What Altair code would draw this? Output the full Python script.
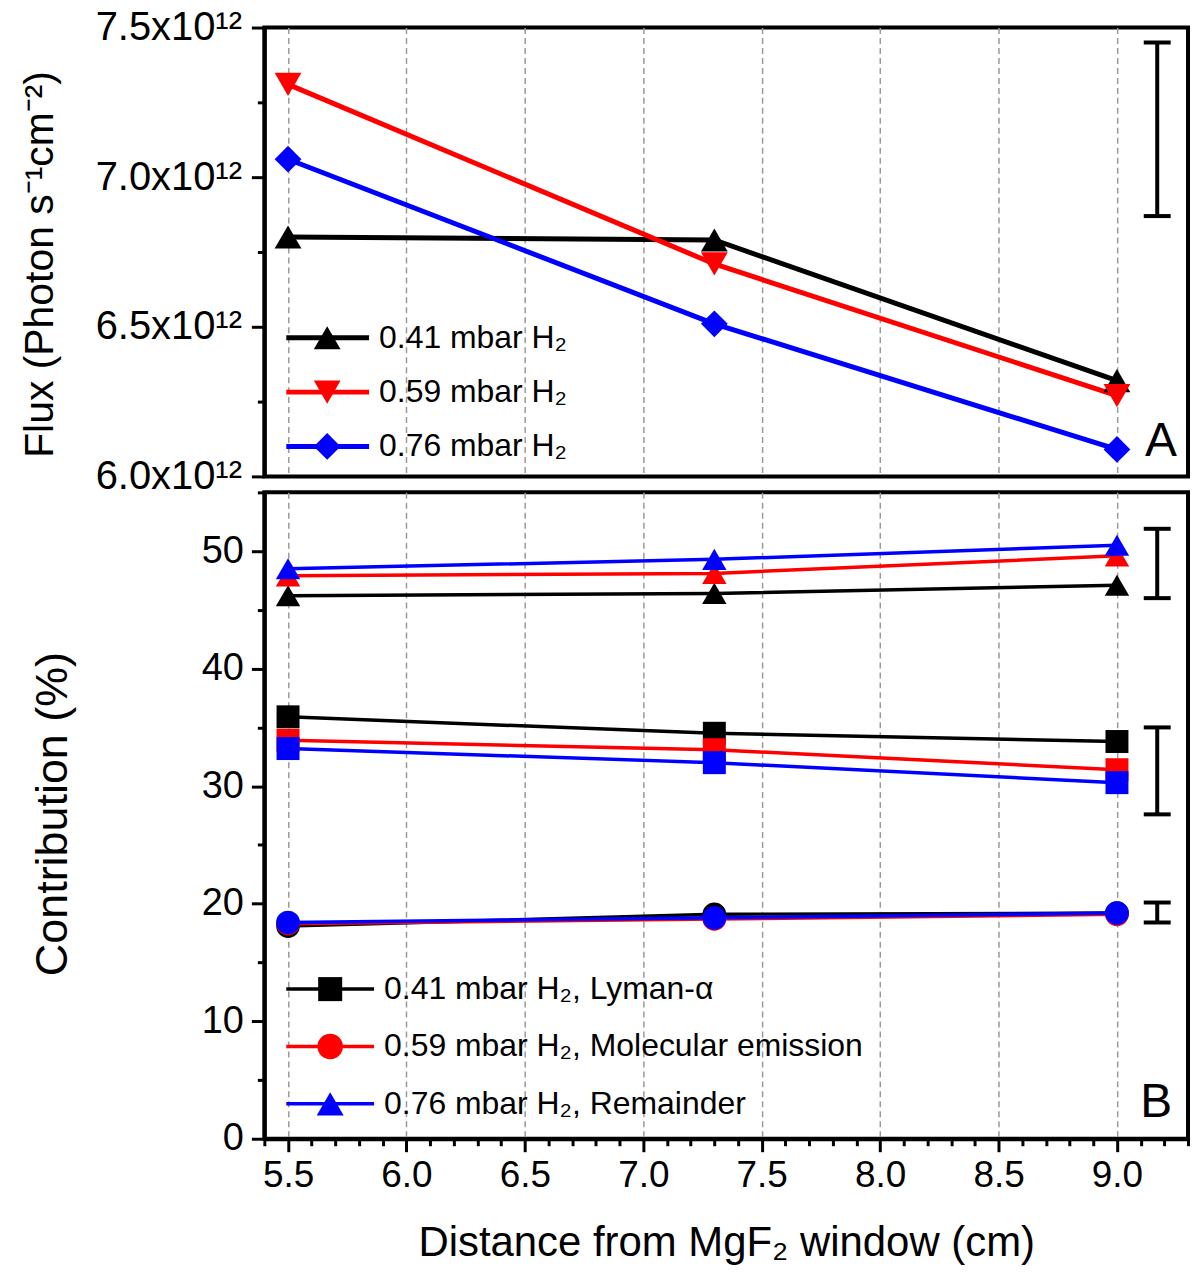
import pandas as pd
import altair as alt

FONT = "Liberation Sans"

distance = [5.5, 7.3, 9.0]

# panel A: flux, in units of 10^12 photon s-1 cm-2
pressures_a = ["0.41 mbar H₂", "0.59 mbar H₂", "0.76 mbar H₂"]
flux_041 = [6.80, 6.79, 6.32]
flux_059 = [7.31, 6.71, 6.27]
flux_076 = [7.06, 6.51, 6.09]
flux_err = [6.87, 7.45]

# panel B: contribution (%)
entries_b = ["0.41 mbar H₂, Lyman-α", "0.59 mbar H₂, Molecular emission",
             "0.76 mbar H₂, Remainder"]
components = ["Lyman-α", "Molecular emission", "Remainder"]
lyman = {"0.41": [35.9, 34.5, 33.8], "0.59": [33.9, 33.1, 31.4], "0.76": [33.2, 32.0, 30.3]}
molecular = {"0.41": [18.1, 19.1, 19.2], "0.59": [18.3, 18.7, 19.1], "0.76": [18.4, 18.8, 19.2]}
remainder = {"0.41": [46.2, 46.4, 47.1], "0.59": [47.9, 48.1, 49.6], "0.76": [48.5, 49.3, 50.5]}
err_lo = [46.0, 27.6, 18.4]
err_hi = [51.9, 35.0, 20.1]
err_x = 9.17

colors = ["#000000", "#ff0000", "#0000ff"]

W = 926

# ---- tables
rows = []
for p, ys in zip(pressures_a, [flux_041, flux_059, flux_076]):
    for x, y in zip(distance, ys):
        rows.append({"distance": x, "flux": y, "pressure": p})
df_a = pd.DataFrame(rows)
err_a = pd.DataFrame({"distance": [err_x], "lo": [flux_err[0]], "hi": [flux_err[1]]})
caps_a = pd.DataFrame({"distance": [err_x, err_x], "flux": flux_err})
key_a_df = pd.DataFrame({"entry": pressures_a})

rows = []
for key in ["0.41", "0.59", "0.76"]:
    for comp, table in zip(components, [lyman, molecular, remainder]):
        for x, y in zip(distance, table[key]):
            rows.append({"distance": x, "contrib": y, "pressure": key, "component": comp})
df_b = pd.DataFrame(rows)
err_b = pd.DataFrame({"distance": [err_x] * 3, "lo": err_lo, "hi": err_hi})
caps_b = pd.DataFrame({"distance": [err_x] * 6, "contrib": err_lo + err_hi})
key_b_df = pd.DataFrame({"entry": entries_b})

# ---- axes
major_half = "abs(datum.value * 2 - round(datum.value * 2)) < 0.01"
x_major = [5.5, 6.0, 6.5, 7.0, 7.5, 8.0, 8.5, 9.0]
x_all = [round(5.4 + 0.1 * i, 1) for i in range(40)]
xscale = alt.Scale(domain=[5.4, 9.3], nice=False, zero=False)
grid_style = dict(grid=True, gridColor="#9a9a9a", gridDash=[6, 4], gridWidth=1.5)

x_top = alt.X("distance:Q", scale=xscale, axis=alt.Axis(
    values=x_major, labels=False, ticks=False, domain=False, title=None, **grid_style))

x_bottom = alt.X("distance:Q", scale=xscale, axis=alt.Axis(
    values=x_all, title="Distance from MgF₂ window (cm)",
    labelExpr=f"{major_half} ? format(datum.value, '.1f') : ''",
    labelFontSize=37, labelPadding=6, labelOverlap=False, labelFlush=False,
    tickSize={"condition": {"test": major_half, "value": 13}, "value": 7},
    gridOpacity={"condition": {"test": major_half, "value": 1}, "value": 0},
    titleFontSize=42, titlePadding=29, **grid_style))

yscale_a = alt.Scale(domain=[6.0, 7.5], nice=False, zero=False)
y_top = alt.Y("flux:Q", scale=yscale_a, axis=alt.Axis(
    values=[6.0, 6.25, 6.5, 6.75, 7.0, 7.25, 7.5],
    labelExpr=f"{major_half} ? format(datum.value, '.1f') + 'x10¹²' : ''",
    labelFontSize=40, labelPadding=10, labelOverlap=False, labelFlush=False,
    tickSize={"condition": {"test": major_half, "value": 13}, "value": 7},
    grid=False, title="Flux (Photon s⁻¹cm⁻²)", titleFontSize=41,
    titleX=-224, titleY=237, titleAngle=-90,
    titleAlign="center", titleBaseline="middle"))

major_ten = "datum.value % 10 === 0"
yscale_b = alt.Scale(domain=[0, 55], nice=False)
y_bottom = alt.Y("contrib:Q", scale=yscale_b, axis=alt.Axis(
    values=list(range(0, 56, 5)),
    labelExpr=f"{major_ten} ? datum.value : ''",
    labelFontSize=38, labelPadding=8, labelOverlap=False, labelFlush=False,
    tickSize={"condition": {"test": major_ten, "value": 13}, "value": 7},
    grid=False, title="Contribution (%)", titleFontSize=45,
    titleX=-212, titleY=322, titleAngle=-90,
    titleAlign="center", titleBaseline="middle"))

# ---- panel A
color_a = alt.Color("pressure:N", scale=alt.Scale(domain=pressures_a, range=colors), legend=None)
shapes_a = ["triangle-up", "triangle-down", "diamond"]

lines_a = alt.Chart(df_a).mark_line(strokeWidth=5).encode(x=x_top, y=y_top, color=color_a)
points_a = alt.Chart(df_a).mark_point(filled=True, opacity=1, size=720).encode(
    x=x_top, y=y_top, color=color_a,
    shape=alt.Shape("pressure:N", scale=alt.Scale(domain=pressures_a, range=shapes_a),
                    legend=None))
bar_a = alt.Chart(err_a).mark_rule(strokeWidth=4, color="black").encode(
    x=x_top, y=alt.Y("lo:Q", scale=yscale_a), y2="hi:Q")
cap_a = alt.Chart(caps_a).mark_tick(orient="horizontal", size=27, thickness=4,
                                    color="black", opacity=1).encode(x=x_top, y=y_top)
tag_a = alt.Chart(pd.DataFrame({"t": ["A"]})).mark_text(
    fontSize=48, font=FONT, align="right", baseline="alphabetic", color="black").encode(
    text="t:N", x=alt.value(W - 11), y=alt.value(430))

# legend of panel A, drawn as marks on its own point scale
key_y_a = alt.Y("entry:N", scale=alt.Scale(type="point", domain=pressures_a,
                                           range=[311, 420], padding=0), axis=None)
key_color_a = alt.Color("entry:N", scale=alt.Scale(domain=pressures_a, range=colors),
                        legend=None)
key_a = alt.layer(
    alt.Chart(key_a_df).mark_rule(strokeWidth=5).encode(
        x=alt.value(22), x2=alt.value(105), y=key_y_a, color=key_color_a),
    alt.Chart(key_a_df).mark_point(filled=True, opacity=1, size=720).encode(
        x=alt.value(63), y=key_y_a, color=key_color_a,
        shape=alt.Shape("entry:N", scale=alt.Scale(domain=pressures_a, range=shapes_a),
                        legend=None)),
    alt.Chart(key_a_df).mark_text(align="left", baseline="middle", fontSize=32, font=FONT,
                                  color="black").encode(
        x=alt.value(115), y=key_y_a, text="entry:N"),
)

top = alt.layer(
    alt.layer(lines_a, points_a, bar_a, cap_a, tag_a), key_a
).resolve_scale(y="independent", color="independent", shape="independent").properties(
    width=W, height=450)

# ---- panel B
color_b = alt.Color("pressure:N", scale=alt.Scale(domain=["0.41", "0.59", "0.76"], range=colors),
                    legend=None)
lines_b = alt.Chart(df_b).mark_line(strokeWidth=3.5).encode(
    x=x_bottom, y=y_bottom, color=color_b, detail="component:N")
points_b = alt.Chart(df_b).mark_point(filled=True, opacity=1).encode(
    x=x_bottom, y=y_bottom, color=color_b,
    shape=alt.Shape("component:N", scale=alt.Scale(
        domain=components, range=["square", "circle", "triangle-up"]), legend=None),
    size=alt.Size("component:N", scale=alt.Scale(domain=components, range=[530, 600, 730]),
                  legend=None))
bar_b = alt.Chart(err_b).mark_rule(strokeWidth=4, color="black").encode(
    x=x_bottom, y=alt.Y("lo:Q", scale=yscale_b), y2="hi:Q")
cap_b = alt.Chart(caps_b).mark_tick(orient="horizontal", size=27, thickness=4,
                                    color="black", opacity=1).encode(x=x_bottom, y=y_bottom)
tag_b = alt.Chart(pd.DataFrame({"t": ["B"]})).mark_text(
    fontSize=48, font=FONT, align="right", baseline="alphabetic", color="black").encode(
    text="t:N", x=alt.value(W - 16), y=alt.value(626))

key_y_b = alt.Y("entry:N", scale=alt.Scale(type="point", domain=entries_b,
                                           range=[498, 613], padding=0), axis=None)
key_color_b = alt.Color("entry:N", scale=alt.Scale(domain=entries_b, range=colors), legend=None)
key_b = alt.layer(
    alt.Chart(key_b_df).mark_rule(strokeWidth=3.5).encode(
        x=alt.value(22), x2=alt.value(110), y=key_y_b, color=key_color_b),
    alt.Chart(key_b_df).mark_point(filled=True, opacity=1).encode(
        x=alt.value(66), y=key_y_b, color=key_color_b,
        shape=alt.Shape("entry:N", scale=alt.Scale(
            domain=entries_b, range=["square", "circle", "triangle-up"]), legend=None),
        size=alt.Size("entry:N", scale=alt.Scale(domain=entries_b, range=[580, 730, 880]),
                      legend=None)),
    alt.Chart(key_b_df).mark_text(align="left", baseline="middle", fontSize=32, font=FONT,
                                  color="black").encode(
        x=alt.value(120), y=key_y_b, text="entry:N"),
)

bottom = alt.layer(
    alt.layer(lines_b, points_b, bar_b, cap_b, tag_b), key_b
).resolve_scale(y="independent", color="independent", shape="independent",
                size="independent").properties(width=W, height=648)

chart = alt.vconcat(top, bottom, spacing=16, bounds="flush",
                    padding={"left": 9, "top": -4, "right": 0, "bottom": 0}).resolve_scale(
    color="independent", shape="independent", size="independent"
).configure(font=FONT, background="white").configure_view(
    stroke="black", strokeWidth=4
).configure_axis(
    domainColor="black", domainWidth=4, tickColor="black", tickWidth=3,
    labelColor="black", titleColor="black", labelFont=FONT, titleFont=FONT,
    titleFontWeight="normal"
)

chart.save("out.html", embed_options={"renderer": "svg", "actions": False})
